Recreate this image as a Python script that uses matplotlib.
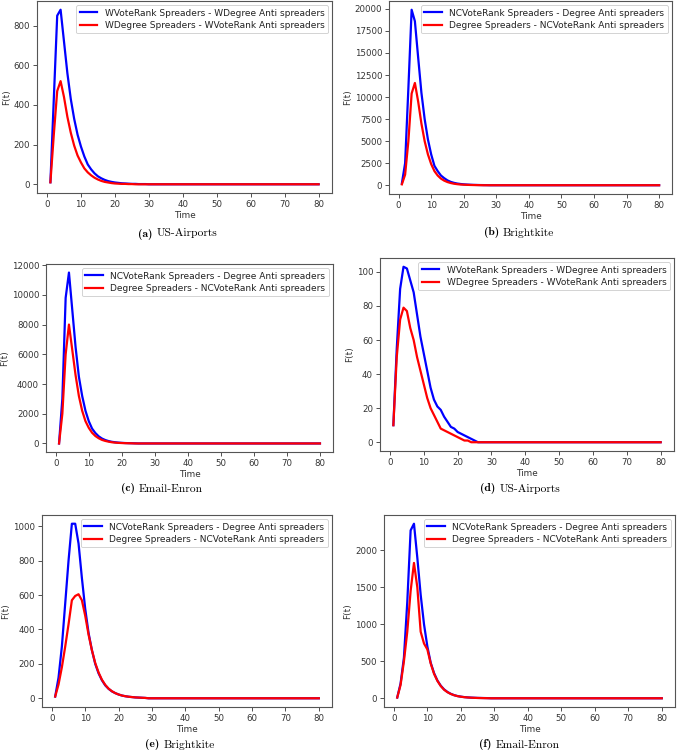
import matplotlib
matplotlib.use("Agg")
import matplotlib.pyplot as plt
from matplotlib.offsetbox import TextArea, HPacker, AnnotationBbox

T_MAX = 80
time = list(range(1, T_MAX + 1))

# (a) US-Airports, weighted
a_blue = [10, 430, 850, 880, 720, 560, 430, 330, 250, 190, 140, 100, 75, 55, 40,
          30, 22, 16, 12, 9, 7, 5, 4, 3, 2, 2, 1, 1, 1]
a_red = [10, 250, 470, 520, 440, 340, 260, 195, 145, 110, 80, 60, 45, 33, 24,
         17, 12, 9, 6, 4, 3, 2, 2, 1, 1]

# (b) Brightkite
b_blue = [200, 2500, 11000, 19900, 18600, 14500, 10500, 7500, 5200, 3500, 2200,
          1600, 1100, 800, 550, 380, 270, 190, 140, 100, 75, 55, 40, 30, 20, 15, 10]
b_red = [100, 1200, 5000, 10400, 11600, 9500, 7000, 5000, 3500, 2400, 1600, 1100,
         750, 520, 360, 250, 170, 120, 80, 60, 45, 30, 20, 15, 10]

# (c) Email-Enron
c_blue = [0, 3000, 9800, 11500, 9000, 6500, 4500, 3200, 2200, 1500, 1000, 700,
          480, 330, 230, 160, 110, 80, 55, 40, 28, 20, 14, 10]
c_red = [0, 2000, 6000, 8000, 6300, 4600, 3200, 2200, 1500, 1050, 720, 500, 350,
         240, 170, 120, 80, 55, 40, 28, 20, 14, 10]

# (d) US-Airports
d_blue = [10, 55, 90, 103, 102, 95, 88, 75, 62, 52, 42, 32, 25, 21, 19, 15, 12,
          9, 8, 6, 5, 4, 3, 2, 1, 0]
d_red = [10, 50, 72, 79, 77, 67, 60, 50, 42, 34, 26, 20, 16, 12, 8, 7, 6, 5, 4,
         3, 2, 1, 1, 0]

# (e) Brightkite
e_blue = [10, 120, 300, 550, 800, 1015, 1015, 900, 700, 520, 380, 280, 200, 145,
          105, 75, 55, 40, 30, 22, 16, 12, 9, 7, 5, 4, 3, 2]
e_red = [10, 80, 180, 300, 430, 570, 595, 605, 570, 480, 370, 280, 205, 150, 108,
         78, 56, 41, 30, 22, 16, 12, 9, 7, 5, 4, 3, 2]

# (f) Email-Enron
f_blue = [10, 200, 550, 1300, 2270, 2360, 1900, 1400, 1000, 700, 480, 340, 240,
          170, 120, 85, 60, 42, 30, 22, 16, 12, 9, 7, 5, 4, 3, 2]
f_red = [10, 180, 500, 900, 1450, 1830, 1500, 900, 740, 660, 470, 330, 235, 165,
         115, 82, 58, 41, 29, 21, 15, 11, 8, 6, 4, 3, 2, 1]

labels_w = ["WVoteRank Spreaders - WDegree Anti spreaders",
            "WDegree Spreaders - WVoteRank Anti spreaders"]
labels_nc = ["NCVoteRank Spreaders - Degree Anti spreaders",
             "Degree Spreaders - NCVoteRank Anti spreaders"]


def pad(vals):
    # tail of every curve sits flat at zero
    return vals + [0] * (T_MAX - len(vals))


W, H = 677, 751
fig = plt.figure(figsize=(W / 100, H / 100), dpi=100)

# left, top, width, height in pixels ; caption centre x, y
panels = [
    ((37, 1, 295, 192), (178, 234), "(a)", "US-Airports", a_blue, a_red, labels_w, 200),
    ((389, 1, 283, 193), (519, 233), "(b)", "Brightkite", b_blue, b_red, labels_nc, 2500),
    ((46, 264, 287, 188), (162, 489), "(c)", "Email-Enron", c_blue, c_red, labels_nc, 2000),
    ((380, 258, 294, 193), (520, 489), "(d)", "US-Airports", d_blue, d_red, labels_w, 20),
    ((42, 515, 290, 192), (180, 745), "(e)", "Brightkite", e_blue, e_red, labels_nc, 200),
    ((384, 515, 291, 192), (519, 745), "(f)", "Email-Enron", f_blue, f_red, labels_nc, 500),
]

for (l, t, w, h), (cx, cy), tag, name, blue, red, labels, ystep in panels:
    ax = fig.add_axes([l / W, 1 - (t + h) / H, w / W, h / H])
    ax.plot(time, pad(blue), color="#0000ff", lw=1.6, label=labels[0])
    ax.plot(time, pad(red), color="#ff0000", lw=1.6, label=labels[1])
    ax.yaxis.set_major_locator(plt.MultipleLocator(ystep))
    ax.set_xticks(range(0, 81, 10))
    ax.tick_params(labelsize=6.2, length=3, width=0.6, pad=2, colors="#333333")
    for sp in ax.spines.values():
        sp.set_color("#555555")
        sp.set_linewidth(0.8)
    ax.set_xlabel("Time", fontsize=6.4, labelpad=1.5, color="#333333")
    ax.set_ylabel("F(t)", fontsize=6.4, labelpad=2, color="#333333")
    leg = ax.legend(loc="upper right", fontsize=6.45, handlelength=2.0,
                    borderaxespad=0.45, labelspacing=0.35, fancybox=True,
                    framealpha=1.0)
    leg.get_frame().set_linewidth(0.6)
    for txt in leg.get_texts():
        txt.set_color("#222222")

    cap = HPacker(children=[
        TextArea(tag, textprops=dict(family="cmb10", fontsize=8.3)),
        TextArea(name, textprops=dict(family="cmr10", fontsize=8.3)),
    ], sep=3, align="baseline")
    fig.add_artist(AnnotationBbox(cap, (cx, H - cy), xycoords="figure pixels",
                                  frameon=False, box_alignment=(0.5, 0.5), pad=0))

fig.savefig("out.png", dpi=100)
